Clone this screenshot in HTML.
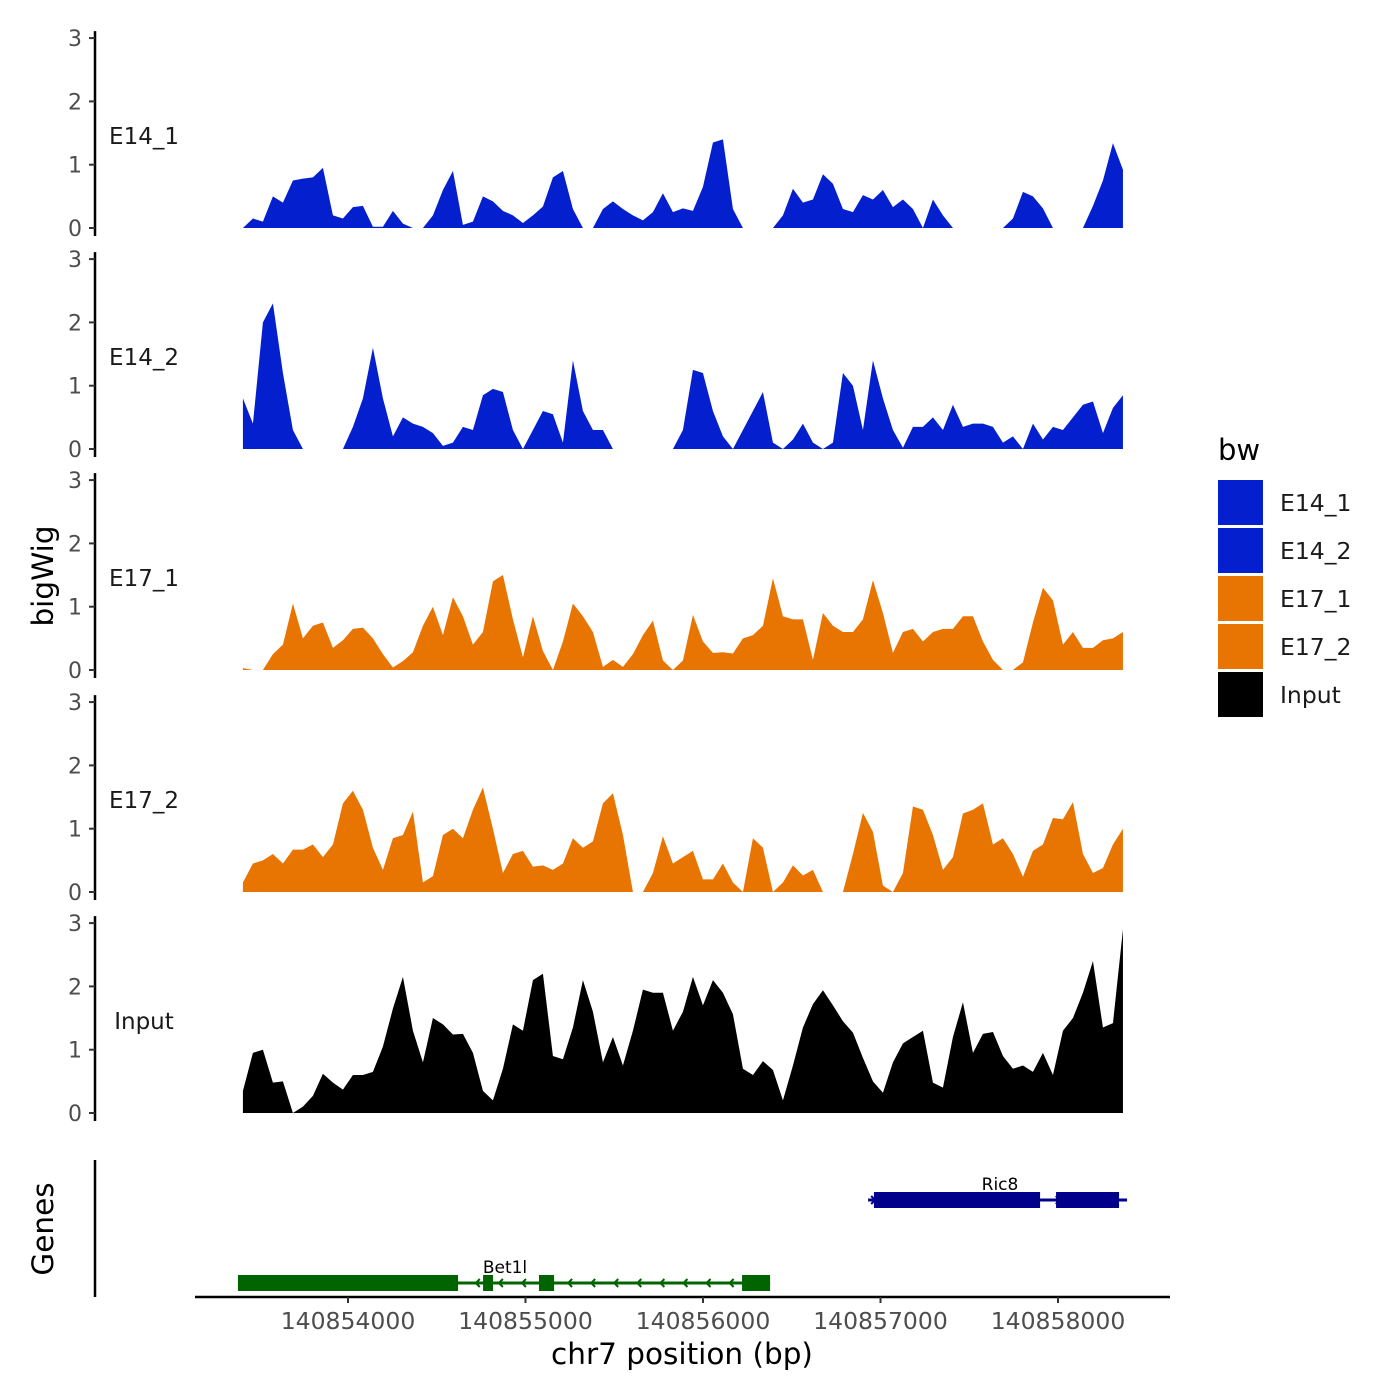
<!DOCTYPE html>
<html><head><meta charset="utf-8"><style>
body{margin:0;background:#fff;}
svg{display:block;font-family:"DejaVu Sans","Liberation Sans",sans-serif;}
</style></head><body>
<svg id="chart" width="1400" height="1400" viewBox="0 0 1400 1400"></svg>
<script>
const trackNames = ["E14_1","E14_2","E17_1","E17_2","Input"];
const trackColors = ["#0420CE","#0420CE","#E87502","#E87502","#000000"];
const gridStartBp = 140853408;
const gridStepBp = 56.34;
const e14_1 = [0,0.15,0.1,0.5,0.4,0.75,0.78,0.8,0.95,0.2,0.15,0.33,0.35,0.02,0.02,0.27,0.07,0,0,0.2,0.6,0.9,0.05,0.1,0.5,0.42,0.27,0.2,0.08,0.2,0.34,0.8,0.9,0.3,0,0,0.3,0.42,0.3,0.2,0.12,0.25,0.55,0.25,0.31,0.27,0.65,1.35,1.4,0.3,0,0,0,0,0.2,0.62,0.4,0.45,0.85,0.7,0.3,0.25,0.52,0.45,0.6,0.33,0.45,0.3,0,0.45,0.2,0,0,0,0,0,0,0.15,0.57,0.5,0.31,0,0,0,0,0.35,0.75,1.34,0.92];
const e14_2 = [0.8,0.4,2.0,2.3,1.2,0.3,0,0,0,0,0,0.35,0.8,1.6,0.8,0.2,0.5,0.4,0.35,0.25,0.05,0.1,0.35,0.3,0.85,0.95,0.9,0.3,0,0.3,0.6,0.55,0.1,1.4,0.6,0.3,0.3,0,0,0,0,0,0,0,0.3,1.25,1.2,0.6,0.2,0,0.3,0.6,0.9,0.1,0,0.15,0.4,0.1,0,0.1,1.2,1.0,0.3,1.4,0.8,0.3,0.02,0.35,0.35,0.5,0.3,0.7,0.35,0.4,0.4,0.35,0.1,0.2,0,0.4,0.15,0.35,0.3,0.5,0.7,0.75,0.25,0.65,0.85];
const e17_1 = [0.03,0,0,0.25,0.4,1.05,0.5,0.7,0.75,0.35,0.47,0.65,0.67,0.5,0.25,0.04,0.14,0.28,0.7,1.0,0.55,1.15,0.85,0.4,0.6,1.4,1.5,0.8,0.2,0.85,0.3,0,0.45,1.05,0.85,0.6,0.05,0.16,0.05,0.25,0.55,0.78,0.15,0,0.15,0.87,0.45,0.27,0.28,0.26,0.5,0.55,0.7,1.45,0.85,0.8,0.8,0.16,0.9,0.7,0.6,0.6,0.8,1.42,0.9,0.27,0.6,0.65,0.45,0.6,0.65,0.65,0.85,0.85,0.45,0.16,0,0,0.12,0.75,1.3,1.1,0.4,0.6,0.35,0.35,0.47,0.5,0.6];
const e17_2 = [0.15,0.45,0.5,0.6,0.45,0.67,0.67,0.75,0.55,0.75,1.4,1.6,1.3,0.7,0.35,0.85,0.9,1.27,0.15,0.25,0.9,1.0,0.85,1.3,1.65,1.0,0.3,0.6,0.65,0.4,0.42,0.35,0.45,0.85,0.7,0.8,1.4,1.56,0.9,0,0,0.3,0.88,0.45,0.55,0.65,0.2,0.2,0.45,0.15,0,0.85,0.7,0,0.15,0.42,0.26,0.35,0,0,0,0.6,1.25,0.95,0.1,0,0.3,1.35,1.3,0.9,0.35,0.55,1.24,1.3,1.4,0.75,0.85,0.6,0.24,0.65,0.75,1.17,1.15,1.42,0.6,0.3,0.38,0.75,1.0];
const inputTrack = [0.35,0.95,1.0,0.48,0.5,0,0.1,0.27,0.62,0.48,0.37,0.6,0.6,0.65,1.05,1.65,2.15,1.3,0.8,1.5,1.4,1.24,1.25,0.95,0.35,0.2,0.7,1.4,1.3,2.1,2.2,0.9,0.85,1.35,2.1,1.6,0.8,1.2,0.75,1.3,1.95,1.9,1.9,1.3,1.6,2.15,1.7,2.1,1.9,1.56,0.7,0.6,0.82,0.68,0.2,0.75,1.35,1.72,1.94,1.7,1.45,1.27,0.87,0.5,0.32,0.8,1.1,1.2,1.3,0.48,0.4,1.2,1.75,0.95,1.25,1.28,0.9,0.7,0.75,0.65,0.95,0.6,1.3,1.5,1.9,2.4,1.35,1.42,2.9];
const trackData = [e14_1,e14_2,e17_1,e17_2,inputTrack];
const yTicks = [0,1,2,3];
const xTicks = [140854000,140855000,140856000,140857000,140858000];
const geneNames = ["Ric8","Bet1l"];
const geneStarts = [140856930,140853380];
const geneEnds = [140858389,140856378];
const geneStrand = [1,-1];
const exonGene = [0,0,1,1,1,1];
const exonStarts = [140856963,140857989,140853380,140854761,140855076,140856220];
const exonEnds = [140857899,140858344,140854620,140854817,140855161,140856378];
const legendLabels = ["E14_1","E14_2","E17_1","E17_2","Input"];

const NS="http://www.w3.org/2000/svg";
const svg=document.getElementById('chart');
function el(tag,attrs,parent){const e=document.createElementNS(NS,tag);for(const k in attrs)e.setAttribute(k,attrs[k]);(parent||svg).appendChild(e);return e;}
function xScale(bp){return 348+(bp-140854000)*0.1775;}
const baselines=[228,449,670,892,1113];
const unit=63.3;
function yScale(v,p){return baselines[p]-v*unit;}

trackData.forEach((vals,p)=>{
  const g=el('g',{});
  
  
  let d='M'+xScale(gridStartBp)+','+yScale(0,p);
  vals.forEach((v,i)=>{d+=' L'+xScale(gridStartBp+i*gridStepBp).toFixed(2)+','+yScale(v,p).toFixed(2);});
  d+=' L'+xScale(gridStartBp+(vals.length-1)*gridStepBp).toFixed(2)+','+yScale(0,p)+' Z';
  const a=el('path',{d:d,fill:trackColors[p]},g);
  
  
  const ax=el('line',{x1:95,x2:95,y1:yScale(3,p)-7,y2:yScale(0,p)+8,stroke:'#000','stroke-width':2.5},g);
  
  
  yTicks.forEach(t=>{
    const tk=el('line',{x1:89,x2:95,y1:yScale(t,p),y2:yScale(t,p),stroke:'#333','stroke-width':2},g);
    
    
    const tl=el('text',{x:82,y:yScale(t,p)+8,'text-anchor':'end','font-size':22,fill:'#4d4d4d'},g);
    tl.textContent=t;
    
    
  });
  const lab=el('text',{x:144,y:yScale(1.45,p)+8,'text-anchor':'middle','font-size':23,fill:'#1a1a1a'},g);
  lab.textContent=trackNames[p];
  
  
});

// genes
const gg=el('g',{});


const geneColors=['#00008B','#006400'];
const geneY=[1200,1283];
const labelX=[1000,505];
geneNames.forEach((n,i)=>{
  const ln=el('line',{x1:xScale(geneStarts[i]),x2:xScale(geneEnds[i]),y1:geneY[i],y2:geneY[i],stroke:geneColors[i],'stroke-width':3},gg);
  
  
  for(let bp=geneStarts[i]+40;bp<geneEnds[i];bp+=130){
    const x=xScale(bp),y=geneY[i],s=geneStrand[i]*4;
    const ar=el('polyline',{points:(x-s)+','+(y-4)+' '+x+','+y+' '+(x-s)+','+(y+4),fill:'none',stroke:geneColors[i],'stroke-width':2},gg);
    
    
  }
  const t=el('text',{x:labelX[i],y:geneY[i]-10,'text-anchor':'middle','font-size':17,fill:'#000'},gg);
  t.textContent=n;
  
  
});
exonStarts.forEach((s,i)=>{
  const gi=exonGene[i];
  const r=el('rect',{x:xScale(s),y:geneY[gi]-8,width:xScale(exonEnds[i])-xScale(s),height:16,fill:geneColors[gi]},gg);
  
  
});
const gax=el('line',{x1:95,x2:95,y1:1160,y2:1297,stroke:'#000','stroke-width':2.5});



// x axis
const xa=el('line',{x1:195,x2:1170,y1:1297,y2:1297,stroke:'#000','stroke-width':2.5});


xTicks.forEach(t=>{
  const tk=el('line',{x1:xScale(t),x2:xScale(t),y1:1297,y2:1303,stroke:'#333','stroke-width':2});
  
  
  const tl=el('text',{x:xScale(t),y:1329,'text-anchor':'middle','font-size':23.5,fill:'#4d4d4d'});
  tl.textContent=t;
  
  
});
const xt=el('text',{x:682,y:1364,'text-anchor':'middle','font-size':29.5,fill:'#000'});
xt.textContent='chr7 position (bp)';


const yt=el('text',{x:0,y:0,transform:'translate(53,576) rotate(-90)','text-anchor':'middle','font-size':29.5,fill:'#000'});
yt.textContent='bigWig';


const gt=el('text',{x:0,y:0,transform:'translate(53,1229) rotate(-90)','text-anchor':'middle','font-size':29.5,fill:'#000'});
gt.textContent='Genes';



// legend
const lg=el('g',{});


const lt=el('text',{x:1218,y:460,'font-size':29,fill:'#000'},lg);
lt.textContent='bw';


legendLabels.forEach((n,i)=>{
  const r=el('rect',{x:1218,y:480+i*48,width:45,height:45,fill:trackColors[i]},lg);
  
  
  const t=el('text',{x:1280,y:511+i*48,'font-size':23.5,fill:'#1a1a1a'},lg);
  t.textContent=n;
  
  
});
</script>
</body></html>
